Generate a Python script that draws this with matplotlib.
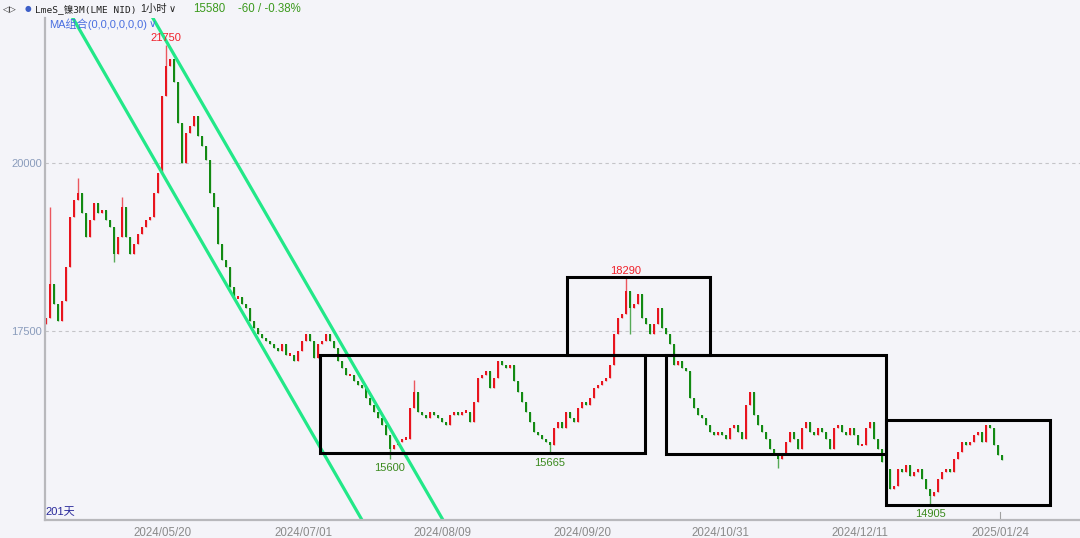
import matplotlib
matplotlib.use("Agg")
import matplotlib.pyplot as plt
from matplotlib.patches import Rectangle
import matplotlib.transforms as mtransforms

# ---------------- data ----------------
first_open = 17600
closes = [
    17700, 18200, 17900, 17650, 17950, 18450, 19200, 19450, 19550, 19250,
    18900, 19150, 19400, 19250, 19300, 19150, 19050, 18650, 18900, 19350,
    18900, 18650, 18800, 18950, 19050, 19150, 19200, 19550, 19850, 21000,
    21450, 21550, 21200, 20600, 20000, 20450, 20550, 20700, 20400, 20250,
    20050, 19550, 19350, 18800, 18550, 18450, 18150, 18000, 18000, 17900,
    17850, 17650, 17550, 17450, 17400, 17350, 17300, 17250, 17200, 17300,
    17150, 17150, 17050, 17200, 17350, 17450, 17350, 17100, 17300, 17350,
    17450, 17350, 17250, 17050, 16950, 16850, 16850, 16750, 16700, 16650,
    16500, 16400, 16300, 16200, 16100, 15950, 15750, 15800, 15850, 15900,
    15900, 16350, 16600, 16300, 16250, 16200, 16300, 16250, 16200, 16150,
    16100, 16250, 16300, 16250, 16300, 16300, 16150, 16450, 16800, 16850,
    16900, 16650, 16800, 17050, 17000, 16950, 17000, 16750, 16600, 16450,
    16300, 16150, 16000, 15950, 15900, 15850, 15800, 16050, 16150, 16050,
    16300, 16200, 16150, 16350, 16450, 16400, 16500, 16650, 16700, 16750,
    16800, 17000, 17450, 17700, 17750, 18100, 17850, 17900, 18050, 17700,
    17600, 17450, 17600, 17850, 17550, 17450, 17300, 17000, 17050, 16950,
    16900, 16500, 16350, 16250, 16200, 16100, 16000, 15950, 16000, 15950,
    15900, 16050, 16100, 16000, 15900, 16400, 16600, 16250, 16100, 16000,
    15900, 15750, 15650, 15600, 15650, 15850, 16000, 15900, 15750, 16050,
    16150, 16000, 15950, 16050, 16000, 15900, 15750, 16050, 16100, 16000,
    15950, 16050, 15950, 15800, 15800, 16050, 16150, 15900, 15750, 15550,
    15450, 15150, 15200, 15450, 15400, 15500, 15350, 15400, 15450, 15300,
    15150, 15050, 15100, 15300, 15400, 15450, 15400, 15600, 15700, 15850,
    15800, 15850, 15950, 16000, 15850, 16100, 16050, 15800, 15650, 15580,
]
# wick extremes (candle number -> price)
spike_high = {1: 19350, 8: 19780, 19: 19490, 30: 21750, 92: 16770, 145: 18290}
spike_low = {17: 18530, 86: 15600, 126: 15665, 146: 17450, 183: 15460, 221: 14905}
labeled_highs = [30, 145]
labeled_lows = [86, 126, 221]

tick_labels = ["2024/05/20", "2024/07/01", "2024/08/09", "2024/09/20",
               "2024/10/31", "2024/12/11", "2025/01/24"]
tick_candles = [29.25, 64.25, 99, 134, 168.5, 203.5, 238.5]

# drawn trend channel: (candle, price) endpoints
channel_lines = [((6.0, 22232), (79.0, 14688)),
                 ((26.0, 22232), (99.25, 14688))]
# drawn boxes: (candle_left, candle_right, price_low, price_high)
boxes = [(68.5, 149.75, 15685, 17150),
         (130.25, 166.0, 17150, 18300),
         (155.0, 210.0, 15670, 17150),
         (210.0, 251.0, 14910, 16180)]

last_price = "15580"
change_text = "-60 / -0.38%"

# ---------------- drawing ----------------
BG = "#f4f4f9"
UP = "#e8141e"
DOWN = "#138a13"

fig = plt.figure(figsize=(10.8, 5.38), dpi=100, facecolor=BG)
ax = fig.add_axes([45 / 1080, 1 - 520 / 538, 1 - 45 / 1080, (520 - 18) / 538])
ax.set_facecolor(BG)

n = len(closes)
opens = [first_open] + closes[:-1]
xs = list(range(n))
for i in xs:
    o, c = opens[i], closes[i]
    col = UP if c >= o else DOWN
    hi = max(o, c, spike_high.get(i, max(o, c)))
    lo = min(o, c, spike_low.get(i, min(o, c)))
    ax.vlines(i, lo, hi, color=col, lw=1.0, alpha=0.7)
    body = max(abs(c - o), 35)
    base = min(o, c) - (body - abs(c - o)) / 2
    ax.bar(i, body, bottom=base, width=0.55, color=col, linewidth=0)

for i in labeled_highs:
    ax.annotate(str(spike_high[i]), (i, spike_high[i]), xytext=(0, 2),
                textcoords="offset pixels", ha="center", va="bottom",
                color="#f0202a", fontsize=8, family="Liberation Sans")
for i in labeled_lows:
    ax.annotate(str(spike_low[i]), (i, spike_low[i]), xytext=(0, -4),
                textcoords="offset pixels", ha="center", va="top",
                color="#3a8a1e", fontsize=8, family="Liberation Sans")

for (x0, y0), (x1, y1) in channel_lines:
    ax.plot([x0, x1], [y0, y1], color="#22e888", lw=2.3, solid_capstyle="butt")

for (xl, xr, yb, yt) in boxes:
    ax.add_patch(Rectangle((xl, yb), xr - xl, yt - yb, fill=False,
                           edgecolor="black", lw=2.2, zorder=5))

ax.set_xlim(-0.25, 258.5)
ax.set_ylim(14688, 22158)
ax.set_yticks([17500, 20000])
ax.set_yticklabels(["17500", "20000"])
ax.yaxis.grid(True, linestyle=(0, (3, 3)), color="#c4c4c8", lw=0.8)
ax.set_axisbelow(True)
ax.set_xticks(tick_candles)
ax.set_xticklabels(tick_labels)
ax.tick_params(axis="x", length=0, pad=5, labelsize=8.3, labelcolor="#8a8a8a")
ax.tick_params(axis="y", length=0, pad=2, labelsize=8, labelcolor="#8a9cbc")
for lab in ax.get_xticklabels() + ax.get_yticklabels():
    lab.set_family("Liberation Sans")
for s in ["top", "right"]:
    ax.spines[s].set_visible(False)
for s in ["left", "bottom"]:
    ax.spines[s].set_color("#b8b8bc")
    ax.spines[s].set_linewidth(1.6)

# small tick mark at last date label
trans = mtransforms.blended_transform_factory(ax.transData, ax.transAxes)
ax.plot([tick_candles[-1]] * 2, [0, 0.016], color="#a0a0a0", lw=0.8,
        transform=trans, clip_on=False)

# header texts
cjk = ["Liberation Sans", "Noto Sans CJK SC"]
def ftext(x, y, s, **kw):
    fig.text(x / 1080, 1 - y / 538, s, va="center", **kw)

ftext(3, 9, "◁▷", fontsize=6.5, color="#333333", family="DejaVu Sans")
ftext(25, 9, "●", fontsize=5.5, color="#3d5fc8", family="DejaVu Sans")
ftext(35, 9, "LmeS_镍3M(LME NID)", fontsize=6.8, color="#222222",
      family=["DejaVu Sans Mono", "Noto Sans CJK SC"])
ftext(140, 9, "1小时", fontsize=7.5, color="#222222", family=cjk)
ftext(169, 9, "∨", fontsize=7, color="#222222", family="DejaVu Sans")
ftext(193, 9, last_price, fontsize=8.3, color="#3c9a1e", family="Liberation Sans")
ftext(238, 9, change_text, fontsize=8.3, color="#3c9a1e", family="Liberation Sans")
ftext(49, 24, "MA组合(0,0,0,0,0,0)", fontsize=8, color="#4a6fe0", family=cjk)
ftext(149, 24, "∨", fontsize=7.5, color="#4a6fe0", family="DejaVu Sans")
ftext(45, 512, "201天", fontsize=8, color="#28289a", family=cjk)

fig.savefig("out.png", dpi=100, facecolor=BG)
